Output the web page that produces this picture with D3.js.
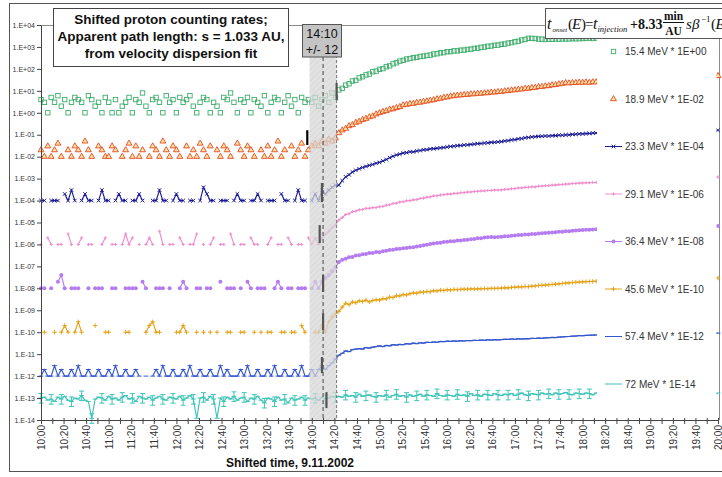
<!DOCTYPE html>
<html>
<head>
<meta charset="utf-8">
<script src="https://cdn.jsdelivr.net/npm/d3@7"></script>
<style>
  body { margin: 0; background: #fff; }
  svg text { font-family: "Liberation Sans", Arial, sans-serif; }
</style>
</head>
<body>
<div id="chart"></div>
<script>
var _ = null;

// one value every 3 minutes, 10:00 .. 20:00 (201 points); rates before the legend factor
var startClock = "10:00";
var stepMin = 3;

var e15 = [
  4,3,1,5,3,6,2,4,1,3,5,4,3,1,6,4,2,3,1,5,
  3,1,4,1,2,3,5,1,4,3,8,2,1,4,5,3,1,6,3,4,
  1,5,3,4,6,2,1,3,5,4,1,3,2,1,5,4,8,3,1,4,
  3,5,1,4,3,2,6,1,3,5,4,1,3,6,2,4,1,5,3,4,
  3,5,2,4,6,3,8,5,
  11,13,18,21,28,30,39,44,53,58,74,79,
  95,103,125,137,170,190,226,245,282,296,322,335,368,380,410,425,476,492,540,552,
  610,612,660,662,712,718,770,790,860,880,965,985,1070,1100,1190,1215,1320,1350,1500,1570,
  1720,1820,2080,2200,2480,2450,2420,2280,2270,2180,2230,2210,2320,2230,2330,2300,2330,2380,2360,2380,
  2420,2440,2520,2430,2540,2560,2600,2580,2640,2660,2700,2680,2720,2760,2740,2800,2820,2790,2850,2880,
  2860,2900,2930,2910,2960,2990,3000,2980,3050,3070,3040,3100,3120,3090,3150,3160,3140,3190,3200,3180,3220
];
var e19 = [
  2,1,3,1,2,4,1,_,2,1,3,2,1,5,2,1,_,3,2,1,
  1,3,2,_,1,2,4,1,3,1,2,_,1,3,2,1,5,2,1,3,
  2,1,_,3,1,2,1,4,2,1,3,_,2,1,3,2,1,_,4,2,
  1,3,2,1,_,2,1,3,1,2,5,1,2,_,3,1,2,4,1,2,
  3,4,3,5,4,6,5,7,
  12,16,19,25,28,36,40,48,54,64,70,86,
  98,112,122,142,148,168,186,224,236,258,262,290,296,325,336,365,385,425,445,495,
  515,565,585,620,635,660,670,710,715,750,755,790,800,850,860,900,915,980,1000,1070,
  1080,1160,1180,1270,1280,1370,1400,1520,1540,1650,1680,1820,1880,2020,2130,2310,2230,2320,2330,2420,
  2380,2470,2380,2520,2480,2600,2700,2750,2850,2900,3000,3100,3150,3250,3300,3400,3450,3550,3600,3700,
  3750,3850,3900,4000,4050,4100,4150,4250,4300,4350,4400,4450,4500,4550,4600,4620,4680,4700,4750,4780,4800
];
var e23 = [
  1,1,_,1,1,1,_,2,1,3,1,_,1,2,1,1,_,1,3,1,
  1,_,1,2,1,1,_,1,1,2,1,_,_,1,1,3,1,1,_,1,
  2,1,1,_,1,1,_,1,4,2,1,1,_,1,1,1,_,1,2,1,
  1,_,1,1,2,1,_,1,1,1,_,2,1,1,_,1,3,1,1,_,
  1,2,1,3,2,3,4,5,
  5,8,12,15,20,24,28,32,36,40,44,50,
  55,64,74,90,104,120,130,146,152,168,165,182,190,205,210,225,232,240,250,262,
  275,292,300,318,322,339,345,362,372,392,398,418,425,448,452,470,485,520,540,580,
  595,645,670,725,750,795,810,845,850,875,870,905,915,945,950,980,990,1035,1050,1085,
  1090,1125,1140,1185,1190,1220,1240,1260,1280,1300,1320,1340,1360,1380,1400,1410,1430,1450,1460,1480,
  1490,1500,1510,1520,1530,1540,1550,1555,1560,1565,1570,1575,1580,1585,1590,1590,1595,1595,1600,1600,1600
];
var e29 = [
  1,_,2,1,_,1,1,_,3,1,_,1,2,_,1,1,_,_,1,2,
  _,1,1,_,1,3,1,2,_,1,_,1,2,1,_,4,1,_,1,1,
  _,2,1,_,1,1,3,_,1,_,1,2,_,1,1,_,3,1,_,1,
  1,_,2,1,1,_,_,1,2,_,1,1,_,2,1,_,1,1,_,2,
  1,2,1,2,3,4,6,8,
  13,17,23,25,31,33,38,39,44,44,48,48,
  52,54,62,64,74,76,86,88,98,99,108,111,125,128,143,147,164,166,180,183,
  195,197,212,212,228,230,244,246,260,262,276,276,288,290,300,302,306,322,326,345,
  352,372,380,400,405,425,420,450,455,478,478,505,508,535,540,565,570,600,605,625,
  630,645,648,665,670,690,710,730,750,770,790,810,830,850,870,890,905,920,940,955,
  970,985,1000,1010,1025,1040,1050,1060,1075,1085,1095,1105,1115,1125,1135,1140,1150,1160,1165,1170,1175
];
var e36 = [
  1,1,_,1,_,2,4,1,_,1,1,1,_,_,1,_,1,1,1,_,
  _,1,1,_,_,1,1,1,1,_,2,1,_,_,1,1,1,_,1,_,
  _,1,2,1,_,_,1,1,_,1,1,_,_,2,_,1,1,1,_,1,
  _,2,1,_,1,1,1,_,_,1,2,1,_,1,1,_,1,1,1,_,
  1,2,1,2,3,4,6,9,
  16,20,22,26,27,31,32,36,37,41,41,45,
  44,49,51,56,57,62,63,67,68,73,74,81,85,93,97,105,109,117,121,129,
  132,140,141,150,151,160,163,174,178,190,194,207,210,217,215,221,223,234,238,250,
  253,267,269,283,285,299,302,318,320,335,337,354,357,374,377,396,401,422,428,449,
  457,465,472,480,488,495,503,510,518,525,533,540,548,555,562,570,577,585,592,600,
  607,612,618,624,630,636,641,646,651,656,661,665,670,674,678,681,684,687,689,691,692
];
var e46 = [
  _,1,_,_,1,_,1,2,1,_,1,3,1,_,_,_,2,_,_,1,
  1,_,_,_,_,1,1,_,_,_,_,1,2,3,1,1,_,_,_,_,
  1,1,2,1,_,_,1,_,1,_,1,_,1,_,_,1,1,_,_,1,
  1,_,_,1,_,1,_,1,1,_,_,1,1,_,1,1,_,2,1,_,
  _,1,1,2,1,3,5,7,
  9,14,21,18,24,22,27,25,29,24,28,30,
  29,34,33,40,38,46,45,52,50,57,62,60,68,66,72,70,78,76,83,80,
  86,84,89,87,90,92,91,94,93,96,95,98,97,100,99,101,102,106,105,110,
  112,116,115,121,120,126,128,134,138,141,145,150,155,160,166,172,178,184,190,195,
  198,200,204,207,210,213,217,220,224,228,232,236,240,244,248,252,256,260,263,266,
  269,272,274,276,278,280,281,282,283,284,285,286,287,288,289,290,291,292,293,294,295
];
var e57 = [
  1,2,1,1,3,1,2,1,1,2,1,3,1,1,2,1,1,2,1,1,
  2,1,3,1,1,2,1,1,2,1,_,1,_,1,2,1,3,1,1,2,
  1,1,2,1,3,1,1,2,1,1,2,1,1,3,1,2,1,1,1,2,
  1,3,1,1,2,1,1,2,1,3,1,1,2,1,1,2,1,3,1,1,
  2,1,2,3,2,3,4,6,
  9,11,14,13,16,17,18,17,20,19,21,22,
  24,22,25,24,27,26,28,27,30,29,32,30,33,32,35,34,36,35,38,37,
  39,38,40,39,41,40,42,41,43,42,44,43,45,44,46,45,46,48,47,49,
  48,50,49,51,50,53,52,54,53,55,56,58,57,60,61,63,64,66,67,70,
  69,72,73,74,75,76,77,78,79,80,80,81,82,83,83,84,84,85,85,86,
  86,86,87,87,87,88,88,88,89,89,89,89,90,90,90,90,90,91,91,91,91
];
var e72 = [
  10,11,8,9,7,11,9,12,8,7,10,9,13,8,7,1.2,9,11,10,8,
  12,9,10,8,11,13,9,10,7,12,10,9,11,8,10,12,9,8,11,10,
  9,12,8,10,13,9,1.2,10,11,8,12,9,1.2,10,7,11,9,12,8,10,
  11,7,10,9,12,8,6,10,9,7,11,8,9,6,10,8,9,11,8,10,
  9,10,8,11,9,10,12,11,
  12,11,14,12,13,11,15,12,13,14,12,11,
  13,12,14,11,13,15,12,13,11,14,12,13,15,12,14,13,12,16,13,12,
  14,13,12,15,13,14,12,16,13,14,12,15,14,13,16,14,13,15,14,16,
  13,15,17,14,13,16,15,14,17,15,16,14,17,15,16,18,15,14,17,16,
  15,17,16,14,17,16,15,17,16,15,17,16,15,17,16,15,17,16,15,17,
  16,15,17,16,15,17,16,15,17,16,15,17,16,15,17,16,15,17,16,15,17
];

var seriesNames = ["15.4 MeV * 1E+00", "18.9 MeV * 1E-02", "23.3 MeV * 1E-04", "29.1 MeV * 1E-06",
  "36.4 MeV * 1E-08", "45.6 MeV * 1E-10", "57.4 MeV * 1E-12", "72 MeV * 1E-14"];
var seriesFactor = [1e0, 1e-2, 1e-4, 1e-6, 1e-8, 1e-10, 1e-12, 1e-14];
var seriesData = [e15, e19, e23, e29, e36, e46, e57, e72];

// per-energy onset marks (time, low and high rate before factor)
var onsetClock = ["14:22", "13:56", "14:09", "14:07", "14:10", "14:10", "14:09", "14:13"];
var onsetLow = [3.8, 3.4, 0.85, 1.15, 0.68, 1.26, 1.38, 3.5];
var onsetHigh = [23, 16, 6.3, 7.6, 4.1, 7.4, 7.4, 18.6];

var injClock = "14:10";
var injSpread = 12;

var xTickLabels = ["10:00","10:20","10:40","11:00","11:20","11:40","12:00","12:20","12:40","13:00","13:20",
  "13:40","14:00","14:20","14:40","15:00","15:20","15:40","16:00","16:20","16:40","17:00","17:20",
  "17:40","18:00","18:20","18:40","19:00","19:20","19:40","20:00"];
var yTickLabels = ["1.E+04","1.E+03","1.E+02","1.E+01","1.E+00","1.E-01","1.E-02","1.E-03","1.E-04",
  "1.E-05","1.E-06","1.E-07","1.E-08","1.E-09","1.E-10","1.E-11","1.E-12","1.E-13","1.E-14"];

var titleLines = ["Shifted proton counting rates;", "Apparent path length: s = 1.033 AU,", "from velocity dispersion fit"];
var xTitle = "Shifted time, 9.11.2002";

var seriesStyle = [
  { color: "#3dac6a", line: false, marker: "square", size: 2.2 },
  { color: "#e4481e", fill: "#ffe3a6", line: false, marker: "triangle", size: 15 },
  { color: "#1b1b98", line: true, marker: "x", size: 1.8 },
  { color: "#ef8fcd", line: true, marker: "plus", size: 1.6 },
  { color: "#b57bf0", line: true, marker: "dot", size: 2 },
  { color: "#e6a31a", line: true, marker: "plus", size: 2.2 },
  { color: "#3557d0", line: true, marker: "dash", size: 2.4 },
  { color: "#3fc4b8", line: true, marker: "dash", size: 2.4, errorBars: true }
];

seriesData.forEach((s, k) => { if (s.length !== 201) console.error("series", k, "has", s.length); });

var toMin = s => {
  var p = s.split(":");
  var p0 = startClock.split(":");
  return (+p[0] - +p0[0]) * 60 + (+p[1] - +p0[1]);
};

var W = 722, H = 477;
var svg = d3.select("#chart").append("svg").attr("width", W).attr("height", H);

var x = d3.scaleLinear().domain([0, 600]).range([41, 718]);
var y = d3.scaleLog().domain([1e-14, 1e4]).range([420, 25]);
var plotL = 41, plotR = 719, plotT = 25, plotB = 420;

var markerPath = {
  x: s => `M${-s},${-s}L${s},${s}M${-s},${s}L${s},${-s}`,
  plus: s => `M${-s},0H${s}M0,${-s}V${s}`,
  dash: s => `M${-s},0H${s}`
};

function addMarker(g, st, cx, cy) {
  if (st.marker === "square") {
    g.append("rect").attr("x", cx - st.size).attr("y", cy - st.size)
      .attr("width", st.size * 2).attr("height", st.size * 2)
      .attr("fill", "none").attr("stroke", st.color).attr("stroke-width", 0.9);
  } else if (st.marker === "triangle") {
    g.append("path").attr("d", d3.symbol().type(d3.symbolTriangle).size(st.size)())
      .attr("transform", `translate(${cx},${cy})`)
      .attr("fill", st.fill).attr("stroke", st.color).attr("stroke-width", 0.9);
  } else if (st.marker === "dot") {
    g.append("circle").attr("cx", cx).attr("cy", cy).attr("r", st.size).attr("fill", st.color);
  } else {
    g.append("path").attr("d", markerPath[st.marker](st.size))
      .attr("transform", `translate(${cx},${cy})`)
      .attr("fill", "none").attr("stroke", st.color).attr("stroke-width", 1);
  }
}

// outer chart frame
svg.append("rect").attr("x", 9.5).attr("y", 3.5).attr("width", 740).attr("height", 468)
  .attr("fill", "#fff").attr("stroke", "#555");

svg.append("path").attr("d", `M${plotL},${plotT + 0.5}H${plotR}M${plotR + 0.5},${plotT}V${plotB}`)
  .attr("fill", "none").attr("stroke", "#8c8c8c");

// series
var lineGen = d3.line().defined(d => d.v != null).x(d => x(d.t)).y(d => y(d.v));

seriesData.forEach((vals, k) => {
  var st = seriesStyle[k];
  var pts = vals.map((v, i) => ({ t: i * stepMin, v: v == null ? null : v * seriesFactor[k] }));
  var g = svg.append("g").attr("class", "series s" + k);
  if (st.line) {
    g.append("path").datum(pts).attr("d", lineGen)
      .attr("fill", "none").attr("stroke", st.color).attr("stroke-width", 1.15);
  }
  if (st.errorBars) {
    pts.filter((d, i) => d.v != null && i % 3 === 0).forEach(d => {
      var cx = x(d.t), lo = y(d.v / 1.7), hi = y(d.v * 1.6);
      g.append("path").attr("d", `M${cx},${lo}V${hi}M${cx - 2.5},${lo}H${cx + 2.5}M${cx - 2.5},${hi}H${cx + 2.5}`)
        .attr("fill", "none").attr("stroke", st.color).attr("stroke-width", 1);
    });
  }
  pts.filter(d => d.v != null).forEach(d => addMarker(g, st, x(d.t), y(d.v)));
});

// injection window
var defs = svg.append("defs");
defs.append("pattern").attr("id", "hatch").attr("width", 4).attr("height", 4)
  .attr("patternUnits", "userSpaceOnUse").attr("patternTransform", "rotate(45)")
  .append("line").attr("x1", 0).attr("y1", 0).attr("x2", 0).attr("y2", 4)
  .attr("stroke", "#b5b5b5").attr("stroke-width", 1);

var t0 = toMin(injClock);
var bandX0 = x(t0 - injSpread), bandX1 = x(t0 + injSpread);
svg.append("rect").attr("x", bandX0).attr("y", plotT).attr("width", bandX1 - bandX0).attr("height", plotB - plotT)
  .attr("fill", "#d7d7d7").attr("opacity", 0.72);
svg.append("rect").attr("x", bandX0).attr("y", plotT).attr("width", bandX1 - bandX0).attr("height", plotB - plotT)
  .attr("fill", "url(#hatch)").attr("opacity", 0.45);
svg.append("line").attr("x1", x(t0)).attr("x2", x(t0)).attr("y1", 57).attr("y2", plotB)
  .attr("stroke", "#444").attr("stroke-dasharray", "4,3");
svg.append("line").attr("x1", bandX1).attr("x2", bandX1).attr("y1", plotT).attr("y2", plotB)
  .attr("stroke", "#777").attr("stroke-dasharray", "3,2");

// onset marks
onsetClock.forEach((c, k) => {
  var cx = x(toMin(c));
  svg.append("line").attr("x1", cx).attr("x2", cx)
    .attr("y1", y(onsetLow[k] * seriesFactor[k])).attr("y2", y(onsetHigh[k] * seriesFactor[k]))
    .attr("stroke", k === 1 ? "#000" : "#555").attr("stroke-width", 2.2);
});

// legend (sits over the late data)
svg.append("rect").attr("x", 597).attr("y", 39).attr("width", 119.5).attr("height", 366).attr("fill", "#fff");
var legend = svg.append("g").attr("class", "legend");
seriesNames.forEach((name, k) => {
  var st = seriesStyle[k];
  var ly = 51.5 + 47.5 * k;
  var g = legend.append("g");
  if (st.line) {
    g.append("line").attr("x1", 605).attr("x2", 622).attr("y1", ly).attr("y2", ly)
      .attr("stroke", st.color).attr("stroke-width", 1);
  }
  if (k < 7) addMarker(g, st, 613.5, ly);
  g.append("text").attr("x", 625).attr("y", ly).attr("dy", "0.35em")
    .attr("font-size", 10).attr("fill", "#333").text(name);
});

// axes
var yAxis = d3.axisLeft(y)
  .tickValues(yTickLabels.map(s => +s.replace(".E", "e")))
  .tickFormat((d, i) => yTickLabels[i])
  .tickSizeInner(4).tickSizeOuter(0);
var yg = svg.append("g").attr("transform", `translate(${plotL},0)`).call(yAxis);
yg.select(".domain").attr("stroke", "#444");
yg.selectAll(".tick line").attr("stroke", "#444");
yg.selectAll(".tick text").attr("font-size", 7).attr("fill", "#333").attr("x", -6)
  .style("font-family", "'Liberation Sans', Arial, sans-serif");

var xAxis = d3.axisBottom(x)
  .tickValues(d3.range(0, 601, 10))
  .tickFormat(m => m % 20 === 0 ? xTickLabels[m / 20] : "")
  .tickSizeInner(4).tickSizeOuter(0);
var xg = svg.append("g").attr("transform", `translate(0,${plotB})`).call(xAxis);
xg.select(".domain").attr("stroke", "#444");
xg.selectAll(".tick line").attr("stroke", "#444").attr("y1", -2);
xg.selectAll(".tick text")
  .attr("transform", "rotate(-90)").attr("x", -5).attr("y", 0).attr("dy", "0.36em")
  .style("text-anchor", "end").attr("font-size", 10).attr("fill", "#333")
  .style("font-family", "'Liberation Sans', Arial, sans-serif");

svg.append("text").attr("x", 290).attr("y", 467).attr("text-anchor", "middle")
  .attr("font-size", 12).attr("font-weight", "bold").attr("fill", "#111").text(xTitle);

// title box
svg.append("rect").attr("x", 53.5).attr("y", 8.5).attr("width", 235).attr("height", 58)
  .attr("fill", "#fff").attr("stroke", "#444");
titleLines.forEach((t, i) => {
  svg.append("text").attr("x", 171).attr("y", 24 + i * 16.8).attr("text-anchor", "middle")
    .attr("font-size", 13.5).attr("font-weight", "bold").attr("fill", "#111").text(t);
});

// injection time box
svg.append("rect").attr("x", 302.5).attr("y", 24.5).attr("width", 39).attr("height", 32.5)
  .attr("fill", "#c4c4c4").attr("stroke", "#555");
[injClock, "+/- " + injSpread].forEach((t, i) => {
  svg.append("text").attr("x", 322).attr("y", 37.5 + i * 16).attr("text-anchor", "middle")
    .attr("font-size", 12.5).attr("fill", "#111").text(t);
});

// formula box
svg.append("rect").attr("x", 545.5).attr("y", 8.5).attr("width", 190).attr("height", 30)
  .attr("fill", "#fff").attr("stroke", "#555");
var serif = "'Liberation Serif', 'Times New Roman', serif";
var formula = [
  [547, 29, "t", 16, "italic", "normal"],
  [552.5, 31.5, "onset", 7, "italic", "normal"],
  [568, 29, "(", 15, "normal", "normal"],
  [572, 29, "E", 15, "italic", "normal"],
  [581, 29, ")", 15, "normal", "normal"],
  [585, 29, "=", 15, "normal", "normal"],
  [593, 29, "t", 16, "italic", "normal"],
  [597.5, 31.5, "injection", 8.5, "italic", "normal"],
  [630, 29, "+8.33", 14, "normal", "bold"],
  [686, 29, "s", 15, "italic", "normal"],
  [692, 29, "\u03b2", 15, "italic", "normal"],
  [701, 22, "\u22121", 9, "normal", "normal"],
  [711, 29, "(", 15, "normal", "normal"],
  [715.5, 29, "E", 15, "italic", "normal"]
];
var fg = svg.append("g");
formula.forEach(f => {
  fg.append("text").attr("x", f[0]).attr("y", f[1]).attr("font-size", f[3])
    .style("font-family", serif).style("font-style", f[4]).attr("font-weight", f[5])
    .attr("fill", "#111").text(f[2]);
});
fg.append("text").attr("x", 673.5).attr("y", 19.5).attr("text-anchor", "middle").attr("font-size", 11.5)
  .attr("font-weight", "bold").style("font-family", serif).attr("fill", "#111").text("min");
fg.append("line").attr("x1", 663).attr("x2", 684).attr("y1", 22.5).attr("y2", 22.5)
  .attr("stroke", "#111").attr("stroke-width", 1);
fg.append("text").attr("x", 673.5).attr("y", 34.5).attr("text-anchor", "middle").attr("font-size", 11.5)
  .attr("font-weight", "bold").style("font-family", serif).attr("fill", "#111").text("AU");
</script>
</body>
</html>
